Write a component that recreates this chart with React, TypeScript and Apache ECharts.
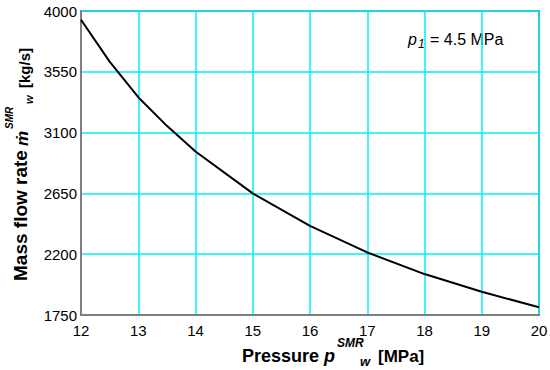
import React, { useEffect, useRef } from "react";
import * as echarts from "echarts";

const pressure = [12, 12.5, 13, 13.5, 14, 15, 16, 17, 18, 19, 20];
const massFlow = [3935, 3625, 3362, 3150, 2960, 2650, 2410, 2213, 2053, 1922, 1807];
const yTicks = [1750, 2200, 2650, 3100, 3550, 4000];
const xTicks = [12, 13, 14, 15, 16, 17, 18, 19, 20];

const FONT = "'Liberation Sans', Arial, sans-serif";
const C = 0.3465; // central-baseline offset (em)

type Piece = { text: string; size: number; bold?: boolean; italic?: boolean; x: number; base: number };

function hPiece(p: Piece) {
  return {
    type: "text",
    x: p.x,
    y: p.base - C * p.size,
    style: {
      text: p.text,
      fontFamily: FONT,
      fontSize: p.size,
      fontWeight: p.bold ? "bold" : "normal",
      fontStyle: p.italic ? "italic" : "normal",
      fill: "#000",
      align: "left",
      verticalAlign: "middle",
    },
  };
}

// rotated (reading bottom to top): x = start along length (screen y), base = baseline screen x
function vPiece(p: Piece) {
  return {
    type: "text",
    x: p.base - C * p.size,
    y: p.x,
    rotation: Math.PI / 2,
    style: {
      text: p.text,
      fontFamily: FONT,
      fontSize: p.size,
      fontWeight: p.bold ? "bold" : "normal",
      fontStyle: p.italic ? "italic" : "normal",
      fill: "#000",
      align: "left",
      verticalAlign: "middle",
    },
  };
}

const xTitle: Piece[] = [
  { text: "Pressure", size: 18, bold: true, x: 242, base: 362 },
  { text: "p", size: 18, bold: true, italic: true, x: 324, base: 362 },
  { text: "SMR", size: 12, bold: true, italic: true, x: 337, base: 347 },
  { text: "w", size: 13, bold: true, italic: true, x: 360, base: 366 },
  { text: "[MPa]", size: 17, bold: true, x: 378, base: 362 },
];

const yTitle: Piece[] = [
  { text: "Mass flow rate", size: 19, bold: true, x: 281, base: 27 },
  { text: "ṁ", size: 17, bold: true, italic: true, x: 146, base: 28 },
  { text: "SMR", size: 10, bold: true, italic: true, x: 129, base: 13 },
  { text: "w", size: 11, bold: true, italic: true, x: 104, base: 33 },
  { text: "[kg/s]", size: 15, bold: true, x: 88, base: 30 },
];

const note: Piece[] = [
  { text: "p", size: 16, italic: true, x: 408, base: 45 },
  { text: "1", size: 12, italic: true, x: 418, base: 48 },
  { text: "= 4.5 MPa", size: 16, x: 430, base: 45 },
];

export default function App() {
  const ref = useRef<HTMLDivElement>(null);
  useEffect(() => {
    document.body.style.margin = "0";
    if (!ref.current) return;
    const chart = echarts.init(ref.current, undefined, { renderer: "svg" });
    chart.setOption({
      animation: false,
      backgroundColor: "#ffffff",
      grid: {
        left: 81,
        top: 11,
        right: 11,
        bottom: 55,
        show: true,
        borderColor: "#7f7f7f",
        borderWidth: 2,
        backgroundColor: "transparent",
        containLabel: false,
        outerBoundsMode: "none",
      },
      xAxis: {
        type: "value",
        min: xTicks[0],
        max: xTicks[xTicks.length - 1],
        interval: 1,
        axisLine: { show: true, lineStyle: { color: "#7f7f7f", width: 2 } },
        axisTick: { show: false },
        splitLine: { show: true, lineStyle: { color: "#00f0ff", width: 1.5 } },
        axisLabel: { color: "#000", fontFamily: FONT, fontSize: 15, margin: 8 },
      },
      yAxis: {
        type: "value",
        min: yTicks[0],
        max: yTicks[yTicks.length - 1],
        interval: 450,
        axisLine: { show: true, lineStyle: { color: "#7f7f7f", width: 2 } },
        axisTick: { show: false },
        splitLine: { show: true, lineStyle: { color: "#00f0ff", width: 1.5 } },
        axisLabel: {
          color: "#000",
          fontFamily: FONT,
          fontSize: 15,
          margin: 4,
          formatter: (v: number) => String(v),
        },
      },
      series: [
        {
          type: "line",
          data: pressure.map((p, i) => [p, massFlow[i]]),
          showSymbol: false,
          smooth: false,
          lineStyle: { color: "#000", width: 2 },
        },
      ],
      graphic: [...xTitle.map(hPiece), ...yTitle.map(vPiece), ...note.map(hPiece)],
    });
    return () => chart.dispose();
  }, []);
  return <div ref={ref} style={{ width: 550, height: 370 }} />;
}
